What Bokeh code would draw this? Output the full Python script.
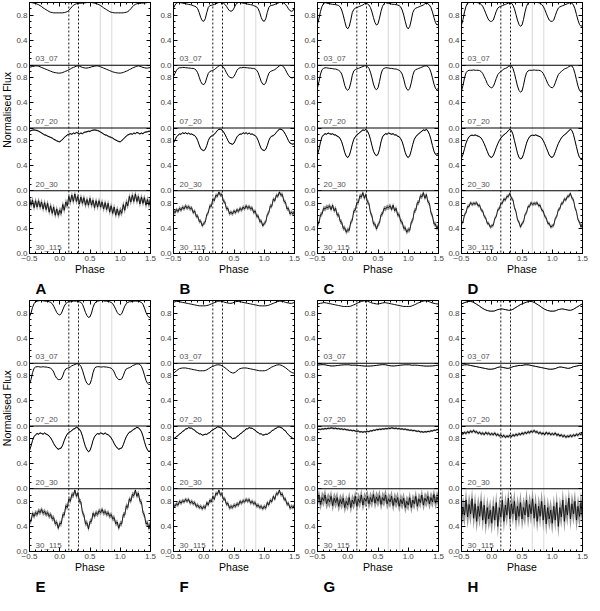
import numpy as np
from bokeh.plotting import figure
from bokeh.models import Range1d, LinearAxis, FixedTicker, Span, Title
from bokeh.layouts import row, column
from bokeh.core.properties import value
from bokeh.embed import file_html
from bokeh.resources import INLINE

FONT = "Liberation Sans"

# ---------------- data (phase-folded, one cycle; plotted over two cycles) ----------------
PHASE = [round(0.025 * i, 3) for i in range(40)]
BANDS = ["03_07", "07_20", "20_30", "30_115"]
LETTERS = ["A", "B", "C", "D", "E", "F", "G", "H"]

A_03_07 = [0.835,0.835,0.835,0.84,0.845,0.855,0.875,0.90,0.93,0.955,
           0.97,0.98,0.985,0.985,0.99,0.99,0.995,0.995,1.0,1.0,
           1.0,1.0,0.995,0.99,0.985,0.975,0.965,0.95,0.935,0.915,
           0.90,0.885,0.87,0.855,0.845,0.84,0.835,0.835,0.835,0.835]
A_07_20 = [0.875,0.878,0.885,0.895,0.905,0.915,0.93,0.94,0.955,0.965,
           0.975,0.985,0.99,0.985,0.975,0.965,0.96,0.955,0.955,0.96,
           0.965,0.975,0.98,0.985,0.99,0.99,0.985,0.975,0.965,0.955,
           0.945,0.935,0.925,0.915,0.905,0.895,0.888,0.882,0.878,0.875]
A_20_30 = [0.78,0.80,0.82,0.85,0.87,0.89,0.90,0.91,0.90,0.92,
           0.91,0.93,0.92,0.905,0.92,0.91,0.93,0.935,0.94,0.95,
           0.945,0.96,0.965,0.97,0.965,0.96,0.95,0.935,0.92,0.905,
           0.89,0.885,0.87,0.86,0.85,0.84,0.82,0.81,0.795,0.785]
A_30_115 = [0.69,0.64,0.78,0.69,0.82,0.76,0.91,0.82,0.93,0.83,
            0.95,0.83,0.91,0.79,0.90,0.80,0.89,0.77,0.86,0.77,
            0.88,0.77,0.85,0.73,0.84,0.74,0.84,0.74,0.82,0.71,
            0.81,0.70,0.80,0.66,0.76,0.64,0.74,0.61,0.71,0.61]

B_03_07 = [0.70,0.74,0.84,0.92,0.95,0.955,0.96,0.97,0.98,0.99,
           1.0,1.0,1.0,0.99,0.97,0.94,0.90,0.87,0.86,0.87,
           0.91,0.96,0.99,1.0,1.0,0.995,0.99,0.985,0.98,0.975,
           0.97,0.965,0.96,0.95,0.94,0.93,0.90,0.84,0.76,0.71]
B_07_20 = [0.69,0.72,0.80,0.87,0.90,0.91,0.92,0.93,0.95,0.97,
           0.99,1.0,0.99,0.97,0.93,0.88,0.84,0.81,0.80,0.80,
           0.82,0.87,0.92,0.95,0.96,0.96,0.965,0.965,0.96,0.96,
           0.955,0.955,0.95,0.95,0.94,0.92,0.88,0.81,0.74,0.70]
B_20_30 = [0.64,0.66,0.72,0.80,0.85,0.87,0.88,0.90,0.93,0.96,
           0.98,0.98,0.97,0.94,0.90,0.85,0.80,0.76,0.75,0.74,
           0.76,0.81,0.86,0.885,0.905,0.90,0.925,0.91,0.925,0.905,
           0.92,0.90,0.905,0.89,0.88,0.85,0.80,0.73,0.67,0.65]
B_30_115 = [0.48,0.50,0.62,0.65,0.76,0.75,0.87,0.84,0.93,0.91,
            0.98,0.93,0.94,0.83,0.82,0.71,0.72,0.63,0.66,0.63,
            0.68,0.65,0.70,0.67,0.72,0.69,0.74,0.71,0.76,0.72,
            0.75,0.71,0.73,0.65,0.68,0.59,0.60,0.51,0.52,0.44]

C_03_07 = [0.58,0.62,0.72,0.84,0.89,0.91,0.92,0.93,0.94,0.95,
           0.96,0.98,0.99,0.98,0.96,0.92,0.85,0.76,0.68,0.64,
           0.66,0.75,0.86,0.94,0.98,1.0,0.99,0.985,0.98,0.975,
           0.97,0.97,0.965,0.96,0.95,0.93,0.88,0.80,0.70,0.61]
C_07_20 = [0.60,0.63,0.72,0.84,0.91,0.93,0.94,0.95,0.96,0.97,
           0.98,0.99,0.99,0.98,0.95,0.89,0.80,0.70,0.63,0.61,
           0.64,0.74,0.86,0.93,0.95,0.96,0.96,0.955,0.95,0.95,
           0.945,0.94,0.94,0.93,0.92,0.90,0.86,0.78,0.68,0.62]
C_20_30 = [0.53,0.56,0.64,0.74,0.82,0.86,0.89,0.91,0.93,0.95,
           0.97,0.96,0.98,0.95,0.90,0.82,0.72,0.63,0.58,0.56,
           0.58,0.66,0.78,0.86,0.89,0.91,0.90,0.92,0.91,0.90,
           0.91,0.89,0.89,0.87,0.86,0.83,0.78,0.70,0.61,0.55]
C_30_115 = [0.38,0.37,0.50,0.53,0.68,0.69,0.81,0.81,0.92,0.90,
            0.97,0.88,0.94,0.82,0.80,0.65,0.60,0.47,0.47,0.39,
            0.46,0.49,0.62,0.63,0.72,0.71,0.74,0.73,0.76,0.70,
            0.77,0.68,0.72,0.61,0.62,0.51,0.50,0.40,0.41,0.34]

D_03_07 = [0.70,0.72,0.79,0.86,0.91,0.93,0.94,0.95,0.96,0.97,
           0.98,0.99,1.0,0.99,0.96,0.90,0.81,0.72,0.65,0.62,
           0.64,0.73,0.85,0.94,0.99,1.0,1.0,1.0,1.0,1.0,
           1.0,0.995,0.99,0.97,0.94,0.89,0.83,0.77,0.72,0.70]
D_07_20 = [0.64,0.66,0.72,0.79,0.85,0.88,0.90,0.92,0.94,0.95,
           0.96,0.98,0.99,0.99,0.95,0.87,0.77,0.67,0.60,0.57,
           0.59,0.68,0.80,0.88,0.91,0.92,0.92,0.92,0.925,0.92,
           0.92,0.92,0.915,0.90,0.87,0.82,0.77,0.71,0.67,0.65]
D_20_30 = [0.53,0.56,0.62,0.69,0.75,0.80,0.84,0.87,0.89,0.91,
           0.93,0.96,0.98,0.96,0.90,0.80,0.70,0.60,0.53,0.51,
           0.52,0.58,0.67,0.76,0.82,0.86,0.88,0.885,0.88,0.89,
           0.88,0.87,0.86,0.84,0.80,0.75,0.69,0.63,0.57,0.54]
D_30_115 = [0.44,0.45,0.56,0.59,0.70,0.71,0.80,0.80,0.87,0.85,
            0.91,0.91,0.96,0.88,0.86,0.73,0.67,0.54,0.50,0.42,
            0.48,0.50,0.62,0.65,0.75,0.75,0.81,0.78,0.80,0.79,
            0.81,0.76,0.77,0.69,0.68,0.59,0.57,0.48,0.48,0.42]

E_03_07 = [0.77,0.79,0.85,0.91,0.95,0.97,0.98,0.98,0.985,0.99,
           0.99,0.99,0.99,0.98,0.97,0.94,0.88,0.81,0.76,0.73,
           0.74,0.80,0.89,0.95,0.98,0.99,0.995,1.0,1.0,0.995,
           0.99,0.99,0.985,0.98,0.97,0.95,0.91,0.86,0.81,0.78]
E_07_20 = [0.74,0.75,0.80,0.87,0.91,0.92,0.93,0.94,0.96,0.97,
           0.98,0.99,0.99,0.98,0.95,0.89,0.81,0.73,0.68,0.66,
           0.67,0.74,0.85,0.92,0.94,0.945,0.945,0.94,0.94,0.945,
           0.94,0.94,0.935,0.93,0.92,0.90,0.86,0.80,0.76,0.74]
E_20_30 = [0.64,0.65,0.70,0.77,0.83,0.87,0.90,0.91,0.93,0.95,
           0.96,0.98,0.97,0.95,0.91,0.84,0.75,0.67,0.62,0.59,
           0.61,0.68,0.77,0.83,0.86,0.88,0.87,0.89,0.88,0.87,
           0.89,0.87,0.86,0.84,0.81,0.77,0.72,0.68,0.65,0.63]
E_30_115 = [0.45,0.44,0.59,0.58,0.73,0.70,0.84,0.80,0.91,0.89,
            0.98,0.88,0.93,0.80,0.79,0.62,0.58,0.44,0.46,0.36,
            0.48,0.48,0.61,0.56,0.62,0.59,0.65,0.62,0.67,0.61,
            0.64,0.59,0.62,0.56,0.59,0.52,0.54,0.44,0.47,0.37]

F_03_07 = [0.915,0.915,0.92,0.925,0.935,0.945,0.955,0.965,0.975,0.985,
           0.99,0.99,0.985,0.98,0.97,0.965,0.96,0.955,0.955,0.96,
           0.97,0.98,0.985,0.985,0.98,0.975,0.97,0.965,0.96,0.955,
           0.95,0.945,0.94,0.935,0.93,0.925,0.92,0.915,0.915,0.915]
F_07_20 = [0.88,0.885,0.895,0.91,0.925,0.94,0.95,0.96,0.97,0.975,
           0.975,0.97,0.96,0.945,0.93,0.91,0.89,0.87,0.855,0.845,
           0.845,0.86,0.88,0.90,0.915,0.92,0.925,0.925,0.925,0.92,
           0.915,0.91,0.905,0.90,0.895,0.89,0.885,0.88,0.88,0.88]
F_20_30 = [0.86,0.87,0.865,0.885,0.895,0.925,0.935,0.955,0.965,0.985,
           0.985,0.975,0.965,0.935,0.925,0.885,0.865,0.835,0.825,0.795,
           0.805,0.805,0.835,0.845,0.875,0.885,0.915,0.925,0.955,0.955,
           0.975,0.965,0.965,0.945,0.935,0.905,0.895,0.875,0.875,0.855]
F_30_115 = [0.72,0.69,0.78,0.74,0.82,0.79,0.88,0.83,0.93,0.91,
            0.98,0.90,0.92,0.83,0.84,0.75,0.77,0.69,0.72,0.70,
            0.74,0.72,0.76,0.74,0.80,0.77,0.81,0.79,0.83,0.80,
            0.83,0.77,0.80,0.76,0.78,0.72,0.74,0.70,0.72,0.68]

G_03_07 = [0.905,0.905,0.91,0.92,0.93,0.94,0.955,0.965,0.975,0.985,
           0.99,0.995,0.995,0.99,0.98,0.97,0.96,0.955,0.95,0.945,
           0.945,0.95,0.955,0.96,0.965,0.965,0.96,0.955,0.95,0.945,
           0.94,0.935,0.93,0.925,0.92,0.915,0.91,0.905,0.905,0.905]
G_07_20 = [0.975,0.975,0.97,0.97,0.97,0.97,0.968,0.965,0.962,0.96,
           0.958,0.955,0.955,0.955,0.955,0.956,0.958,0.96,0.963,0.966,
           0.97,0.973,0.975,0.977,0.977,0.975,0.97,0.965,0.96,0.958,
           0.957,0.958,0.96,0.963,0.966,0.97,0.972,0.974,0.975,0.975]
G_20_30 = [0.94,0.93,0.935,0.925,0.93,0.92,0.915,0.92,0.905,0.91,
           0.90,0.91,0.905,0.915,0.91,0.925,0.92,0.935,0.93,0.945,
           0.94,0.95,0.945,0.955,0.95,0.96,0.955,0.965,0.96,0.97,
           0.965,0.96,0.965,0.955,0.96,0.95,0.955,0.945,0.95,0.94]
G_30_115 = [0.74,0.86,0.70,0.82,0.76,0.88,0.72,0.84,0.78,0.90,
            0.74,0.85,0.80,0.88,0.76,0.86,0.79,0.91,0.77,0.87,
            0.80,0.89,0.75,0.86,0.81,0.90,0.76,0.84,0.79,0.88,
            0.73,0.85,0.78,0.86,0.72,0.83,0.76,0.85,0.70,0.80]

H_03_07 = [0.83,0.83,0.835,0.845,0.855,0.86,0.865,0.865,0.86,0.855,
           0.85,0.845,0.845,0.85,0.86,0.875,0.89,0.905,0.92,0.935,
           0.945,0.955,0.965,0.975,0.98,0.985,0.985,0.98,0.97,0.955,
           0.94,0.925,0.91,0.89,0.875,0.86,0.85,0.84,0.835,0.83]
H_07_20 = [0.905,0.91,0.915,0.925,0.935,0.94,0.94,0.935,0.93,0.925,
           0.92,0.92,0.925,0.935,0.945,0.95,0.955,0.96,0.965,0.965,
           0.965,0.97,0.975,0.975,0.975,0.97,0.965,0.96,0.955,0.95,
           0.945,0.94,0.935,0.93,0.925,0.92,0.915,0.91,0.905,0.905]
H_20_30 = [0.88,0.86,0.89,0.85,0.87,0.84,0.86,0.83,0.85,0.82,
           0.84,0.83,0.85,0.83,0.86,0.84,0.87,0.85,0.88,0.86,
           0.89,0.87,0.90,0.88,0.91,0.89,0.92,0.90,0.93,0.90,
           0.91,0.88,0.90,0.87,0.89,0.86,0.90,0.87,0.89,0.86]
H_30_115 = [0.45,0.72,0.50,0.78,0.40,0.70,0.55,0.82,0.48,0.74,
            0.58,0.85,0.52,0.76,0.60,0.80,0.50,0.72,0.56,0.78,
            0.52,0.70,0.58,0.82,0.55,0.75,0.60,0.84,0.53,0.76,
            0.48,0.72,0.56,0.80,0.50,0.74,0.44,0.70,0.52,0.66]

# scatter (grey envelope half-width) per band: 03_07, 07_20, 20_30, 30_115
A_ERR = [0.0, 0.0, 0.012, 0.06]
B_ERR = [0.0, 0.0, 0.010, 0.035]
C_ERR = [0.0, 0.0, 0.012, 0.04]
D_ERR = [0.0, 0.0, 0.010, 0.03]
E_ERR = [0.0, 0.0, 0.012, 0.045]
F_ERR = [0.0, 0.0, 0.010, 0.035]
G_ERR = [0.0, 0.004, 0.015, 0.10]
H_ERR = [0.005, 0.006, 0.025, 0.18]

X_TICKS = [-0.5, 0.0, 0.5, 1.0, 1.5]
X_TICK_LABELS = ["\u22120.5", "0.0", "0.5", "1.0", "1.5"]
X_MINOR = [-0.4, -0.3, -0.2, -0.1, 0.1, 0.2, 0.3, 0.4, 0.6, 0.7, 0.8, 0.9,
           1.1, 1.2, 1.3, 1.4]
Y_TICKS = [0.0, 0.4, 0.8]
Y_TICK_LABELS = ["0.0", "0.4", "0.8"]
Y_MINOR = [0.1, 0.2, 0.3, 0.5, 0.6, 0.7, 0.9]
DASHED_PHASES = [0.15, 0.31]
DOTTED_PHASES = [0.67, 0.86]

SERIES = {
    "A": [A_03_07, A_07_20, A_20_30, A_30_115],
    "B": [B_03_07, B_07_20, B_20_30, B_30_115],
    "C": [C_03_07, C_07_20, C_20_30, C_30_115],
    "D": [D_03_07, D_07_20, D_20_30, D_30_115],
    "E": [E_03_07, E_07_20, E_20_30, E_30_115],
    "F": [F_03_07, F_07_20, F_20_30, F_30_115],
    "G": [G_03_07, G_07_20, G_20_30, G_30_115],
    "H": [H_03_07, H_07_20, H_20_30, H_30_115],
}
ERRS = {"A": A_ERR, "B": B_ERR, "C": C_ERR, "D": D_ERR,
        "E": E_ERR, "F": F_ERR, "G": G_ERR, "H": H_ERR}

# ---------------- layout constants ----------------
FW, FH = 121, 251
L, R, TOP = 16, 7, 2
B_TOP_ROW, B_BOT_ROW = 45, 44
LW = 13


def two_cycles(vals):
    xs, ys = [], []
    for shift in (-1, 0, 1):
        for ph, v in zip(PHASE, vals):
            x = ph + shift
            if -0.5 <= x <= 1.5:
                xs.append(x)
                ys.append(v)
    return np.array(xs), np.array(ys)


y_major, y_minor, y_over = [], [], {}
for k in range(4):
    off = 3 - k
    for t, lab in zip(Y_TICKS, Y_TICK_LABELS):
        y_major.append(off + t)
        y_over[off + t] = lab
    for m in Y_MINOR:
        y_minor.append(off + m)
x_over = {t: lab for t, lab in zip(X_TICKS, X_TICK_LABELS)}


def style_axis(ax, labels):
    ax.major_tick_in = 4
    ax.major_tick_out = 0
    ax.minor_tick_in = 2
    ax.minor_tick_out = 0
    ax.axis_line_color = "black"
    ax.major_tick_line_color = "black"
    ax.minor_tick_line_color = "black"
    ax.major_label_text_font = FONT
    if labels:
        ax.major_label_text_color = "#444444"
        ax.major_label_text_font_size = "8px"
        ax.major_label_standoff = 2
    else:
        ax.major_label_text_color = None
        ax.major_label_text_font_size = "0px"
        ax.major_label_standoff = 0


def panel(letter, bottom):
    p = figure(width=L + FW + R, height=TOP + FH + bottom,
               x_range=Range1d(-0.5, 1.5), y_range=Range1d(0, 4),
               output_backend="svg", toolbar_location=None,
               min_border_left=L, min_border_right=R,
               min_border_top=TOP, min_border_bottom=bottom)
    p.grid.visible = False
    p.outline_line_color = "black"
    p.background_fill_color = "white"

    xt = FixedTicker(ticks=X_TICKS, minor_ticks=X_MINOR)
    yt = FixedTicker(ticks=y_major, minor_ticks=y_minor)
    p.xaxis.ticker = xt
    p.yaxis.ticker = yt
    p.xaxis.major_label_overrides = x_over
    p.yaxis.major_label_overrides = y_over
    style_axis(p.xaxis[0], True)
    style_axis(p.yaxis[0], True)
    p.xaxis.axis_label = "Phase"
    p.xaxis.axis_label_text_font = FONT
    p.xaxis.axis_label_text_font_size = "10.5px"
    p.xaxis.axis_label_text_font_style = "normal"
    p.xaxis.axis_label_text_color = "black"
    p.xaxis.axis_label_standoff = -1

    ax_r = LinearAxis(ticker=yt)
    style_axis(ax_r, False)
    p.add_layout(ax_r, "right")
    ax_t = LinearAxis(ticker=xt)
    style_axis(ax_t, False)
    p.add_layout(ax_t, "above")

    p.add_layout(Title(text=letter, align="left", text_font_size="15px",
                       text_font_style="bold", text_font=FONT, standoff=0,
                       offset=6, text_color="black"), "below")

    for ph in DASHED_PHASES:
        p.add_layout(Span(location=ph, dimension="height", line_color="black",
                          line_dash="2 2", line_width=0.9, level="underlay"))
    for ph in DOTTED_PHASES:
        p.add_layout(Span(location=ph, dimension="height", line_color="#aaaaaa",
                          line_dash="1 1", line_width=0.9, level="underlay"))
    for b in (1, 2, 3):
        p.add_layout(Span(location=b, dimension="width", line_color="black",
                          line_width=1))

    for k, (band, vals, e) in enumerate(zip(BANDS, SERIES[letter], ERRS[letter])):
        rn = "b%d" % k
        p.extra_y_ranges[rn] = Range1d(k - 3, k + 1)
        xs, ys = two_cycles(vals)
        if e > 0:
            p.varea(x=xs, y1=np.clip(ys - e, 0, 1), y2=np.clip(ys + e, 0, 1),
                    y_range_name=rn, fill_color="#8c8c8c", fill_alpha=0.9)
        p.line(xs, ys, y_range_name=rn, line_color="black",
               line_width=0.8 if e >= 0.03 else 1)
        p.text(x=[-0.4], y=[0.03], text=[band], y_range_name=rn,
               text_font=value(FONT), text_font_size=value("8px"),
               text_color="#555555", text_baseline="bottom", text_align="left")
    return p


def ylabel_fig(height):
    p = figure(width=LW, height=height, x_range=Range1d(0, 1),
               y_range=Range1d(0, height), min_border=0,
               output_backend="svg", toolbar_location=None,
               x_axis_type=None, y_axis_type=None)
    p.outline_line_color = None
    p.grid.visible = False
    p.text(x=[0.5], y=[height - TOP - FH / 2], text=["Normalised Flux"],
           angle=np.pi / 2, text_align="center", text_baseline="middle",
           text_font=value(FONT), text_font_size=value("10.5px"),
           text_color="black")
    return p


top_row = row([ylabel_fig(TOP + FH + B_TOP_ROW)] +
              [panel(l, B_TOP_ROW) for l in LETTERS[:4]], spacing=0)
bot_row = row([ylabel_fig(TOP + FH + B_BOT_ROW)] +
              [panel(l, B_BOT_ROW) for l in LETTERS[4:]], spacing=0)
layout = column(top_row, bot_row, spacing=0)

open("out.html", "w").write(file_html(layout, INLINE))
